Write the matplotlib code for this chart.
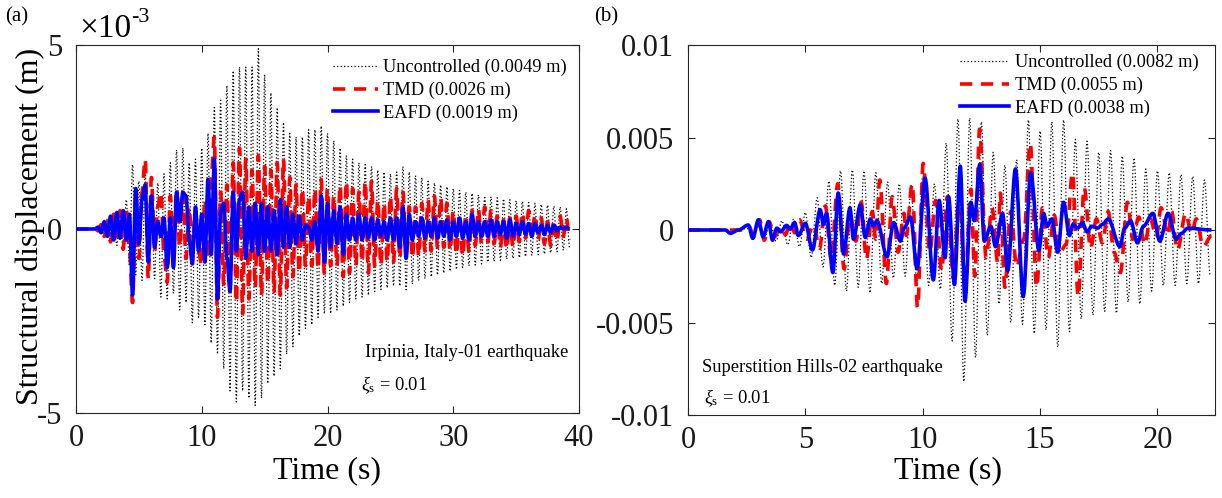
import numpy as np
import matplotlib
matplotlib.use("Agg")
import matplotlib.pyplot as plt
from matplotlib.path import Path
from matplotlib.patches import PathPatch
from matplotlib.lines import Line2D

plt.rcParams['font.family'] = ['Liberation Serif', 'DejaVu Serif']
plt.rcParams['mathtext.fontset'] = 'custom'
plt.rcParams['mathtext.rm'] = 'Liberation Serif'
plt.rcParams['mathtext.it'] = 'Liberation Serif:italic'

# ---------------- data (displacement in 1e-3 m) ----------------
# Panel (a): Irpinia, sampled every 0.25 s from t = 0
step_a = 0.25
unc_a = [
    0, 0, 0, 0,
    0, 0, 0.03, -0.05,
    0.12, -0.18, 0.25, -0.3,
    0.4, -0.45, 0.55, -0.6,
    0.8, -1.0, 1.75, -1.25,
    1.3, -1.4, 1.5, -1.2,
    1.0, -1.35, 1.25, -1.85,
    1.5, -1.9, 1.8, -1.75,
    2.15, -2.2, 2.2, -2.0,
    1.8, -2.55, 1.9, -2.4,
    2.2, -2.6, 2.6, -3.1,
    3.3, -3.4, 3.5, -3.8,
    3.9, -4.4, 4.3, -4.7,
    4.4, -4.4, 4.4, -4.6,
    4.4, -4.8, 4.9, -4.6,
    4.2, -4.2, 3.7, -4.0,
    3.3, -3.8, 2.9, -3.4,
    2.6, -3.2, 2.5, -2.9,
    2.5, -2.7, 2.7, -2.6,
    2.7, -2.4, 2.8, -2.3,
    2.6, -2.3, 2.4, -2.2,
    2.2, -2.1, 2.0, -2.0,
    1.9, -1.9, 1.8, -1.85,
    1.75, -1.8, 1.7, -1.7,
    1.6, -1.65, 1.55, -1.6,
    1.5, -1.55, 1.55, -1.55,
    1.7, -1.65, 1.55, -1.5,
    1.45, -1.4, 1.4, -1.35,
    1.3, -1.3, 1.25, -1.25,
    1.2, -1.2, 1.15, -1.15,
    1.1, -1.1, 1.05, -1.05,
    1.0, -1.0, 0.97, -0.98,
    0.93, -0.95, 0.9, -0.9,
    0.88, -0.88, 0.85, -0.85,
    0.82, -0.82, 0.8, -0.8,
    0.77, -0.78, 0.75, -0.75,
    0.72, -0.72, 0.7, -0.7,
    0.67, -0.68, 0.65, -0.65,
    0.62, -0.62, 0.6, -0.58,
    0.55, -0.5,
]
tmd_a = [
    0, 0, 0, 0,
    0, 0, 0.03, -0.05,
    0.12, -0.2, 0.3, -0.35,
    0.4, -0.35, 0.5, -0.55,
    0.5, -0.6, -2.0, 0.8,
    -0.8, 1.0, 1.9, -1.35,
    1.4, -0.6, 0.6, 1.0,
    -0.7, -1.45, 0.9, -0.6,
    1.1, -0.5, 0.9, -0.8,
    0.6, -0.7, 0.5, -0.6,
    -1.0, 0.8, -0.8, 1.4,
    2.5, -2.4, 1.0, -1.5,
    1.2, -1.6, 1.8, -2.0,
    2.2, -2.3, 1.9, -1.9,
    1.6, -1.6, 2.0, -1.8,
    1.7, -1.5, 1.6, -1.7,
    1.8, -1.8, 1.9, -1.6,
    1.4, -1.3, 1.2, -1.2,
    1.1, -1.0, 0.9, -1.0,
    1.1, -1.1, 1.35, -1.2,
    1.1, -1.0, 0.9, -1.0,
    1.2, -1.3, 1.3, -1.2,
    1.1, -1.0, 1.0, -0.9,
    1.3, -1.2, 1.3, -1.0,
    0.8, -1.0, 0.7, -0.9,
    0.9, -0.9, 1.1, -0.8,
    1.0, -0.7, 0.6, -0.8,
    0.6, -0.75, 0.7, -0.6,
    0.8, -0.6, 0.9, -0.5,
    0.85, -0.5, 0.7, -0.6,
    0.5, -0.7, 0.4, -0.75,
    0.4, -0.6, 0.5, -0.45,
    0.55, -0.4, 0.6, -0.35,
    0.5, -0.4, 0.35, -0.5,
    0.25, -0.55, 0.3, -0.5,
    0.35, -0.35, 0.45, -0.25,
    0.5, -0.2, 0.4, -0.3,
    0.3, -0.4, 0.2, -0.45,
    0.25, -0.35, 0.35, -0.2,
    0.3, -0.3,
]
eafd_a = [
    0, 0, 0, 0,
    0, 0, 0, 0.05,
    -0.1, 0.2, -0.2, 0.35,
    -0.3, 0.45, -0.25, 0.5,
    -0.3, 0.4, -1.8, 1.1,
    -0.4, 0.8, 1.2, -0.9,
    0.9, -0.5, 0.2, -0.2,
    0.3, -1.05, 0.3, -1.05,
    1.0, 0.2, 1.0, 0.9,
    -0.3, -0.95, 0.6, -0.6,
    0.4, -0.9, 1.35, -0.7,
    1.9, -1.9, 0.5, 0.7,
    -0.8, -1.7, 1.0, -0.6,
    0.8, 1.0, -0.8, 0.6,
    -0.6, 0.7, -0.7, 0.7,
    -0.6, 0.6, -0.6, 0.5,
    -0.7, 0.8, -0.5, 0.6,
    -0.5, 0.4, -0.4, 0.35,
    -0.3, 0.1, 0.05, -0.3,
    0.2, -0.6, 0.9, -0.9,
    0.7, -0.5, 0.5, -0.4,
    0.6, -0.7, 0.4, -0.3,
    0.3, -0.3, 0.4, -0.3,
    0.3, -0.25, 0.3, -0.3,
    0.25, -0.2, 0.2, -0.3,
    0.3, -0.3, 0.3, -0.5,
    0.6, -0.8, 0.4, -0.3,
    0.2, -0.2, 0.3, -0.25,
    0.2, -0.2, 0.3, -0.25,
    0.2, -0.2, 0.25, -0.3,
    0.2, -0.2, 0.3, -0.25,
    0.2, -0.3, 0.4, -0.2,
    0.2, -0.2, 0.2, -0.2,
    0.25, -0.2, 0.2, -0.15,
    0.2, -0.25, 0.25, -0.2,
    0.15, -0.15, 0.2, -0.15,
    0.15, -0.2, 0.15, -0.1,
    0.1, -0.15, 0.1, -0.1,
    0.1, -0.05, 0.05, 0.0,
    0.05, 0.0,
]

# Panel (b): Superstition Hills
step_b = 0.25
unc_b = [
    0, 0, 0, 0,
    0, 0, 0, 0,
    0, 0, 0.1, -0.2,
    0.35, -0.5, 0.4, -0.6,
    0.5, -0.8, 0.6, -0.9,
    0.95, -1.5, 1.75, -2.0,
    2.65, -3.0, 3.2, -3.3,
    3.25, -3.1, 3.2, -3.4,
    3.1, -2.9, 2.6, -2.6,
    2.5, -2.5, 2.4, -2.8,
    2.9, -3.0, 2.5, -3.2,
    4.7, -6.0, 6.0, -8.2,
    6.05, -6.9, 5.85, -5.7,
    4.2, -4.0, 3.5, -5.0,
    3.8, -5.1, 5.95, -5.6,
    5.35, -5.4, 5.85, -6.35,
    5.95, -5.5, 4.9, -4.8,
    4.8, -4.6, 4.2, -4.4,
    4.3, -4.5, 4.0, -3.9,
    3.9, -4.0, 3.3, -3.3,
    3.2, -3.0, 3.1, -3.0,
    3.0, -2.9, 2.9, -2.9,
    2.7, -2.5,
]
tmd_b = [
    (0, 0), (2.4, 0), (2.6, 0.2), (2.8, -0.35), (3.05, 0.55), (3.25, -0.55),
    (3.45, 0.45), (3.7, -0.35), (3.95, 0.2), (4.15, -0.25), (4.35, 0.4),
    (4.55, -0.15), (4.75, 0.55), (5.05, -0.5), (5.35, 0.3), (5.6, -1.0),
    (5.85, 1.3), (6.1, -1.6), (6.38, 2.5), (6.65, -2.1), (6.9, 0.8),
    (7.15, -0.6), (7.38, 1.5), (7.6, -1.6), (7.85, 1.0), (8.0, -0.5),
    (8.17, 2.7), (8.45, -2.9), (8.7, 1.8), (8.95, -1.2), (9.2, 0.9),
    (9.3, -0.3), (9.55, 2.5), (9.78, -4.2), (10.02, 3.6), (10.3, -1.2),
    (10.55, 1.6), (10.8, -2.2), (11.05, 1.8), (11.3, -2.6), (11.55, 2.0),
    (11.8, -3.0), (12.05, 2.2), (12.22, -2.5), (12.42, 5.45), (12.7, -1.5),
    (12.95, 1.2), (13.2, -1.8), (13.3, 2.0), (13.5, -3.1), (13.75, 1.0),
    (14.0, -2.0), (14.3, -0.5), (14.58, 4.7), (14.85, -3.1), (15.1, 1.2),
    (15.35, -1.5), (15.6, 0.8), (15.85, -1.2), (16.1, -0.8), (16.38, 3.1),
    (16.62, -3.6), (16.88, 2.3), (17.15, -1.0), (17.4, 0.6), (17.65, -0.7),
    (17.9, 1.0), (18.15, -1.2), (18.42, -2.3), (18.72, 1.5), (18.95, -0.5),
    (19.2, 0.7), (19.45, -0.8), (19.7, 0.6), (19.95, -0.4), (20.15, 1.2),
    (20.45, -0.3), (20.6, 1.0), (20.85, -1.1), (21.2, 0.9), (21.45, -0.2),
    (21.65, 0.6), (21.95, -0.9), (22.3, -0.3),
]
eafd_b = [
    (0, 0), (1.6, 0), (1.8, -0.18), (2.15, 0), (2.57, 0.27), (2.76, -0.45),
    (3.0, 0.55), (3.2, -0.37), (3.43, 0.45), (3.6, -0.55), (3.78, 0.1),
    (3.95, -0.1), (4.2, 0.25), (4.35, 0.05), (4.54, 0.4), (4.7, -0.3),
    (5.0, 0.36), (5.3, -1.08), (5.63, 1.1), (5.77, 0.3), (5.9, 0.9),
    (6.17, -2.3), (6.4, 2.0), (6.63, -1.3), (6.9, 1.2), (7.05, -0.5),
    (7.34, 1.36), (7.55, -0.4), (7.77, 0.6), (7.9, 0.2), (8.05, 0.5),
    (8.48, -1.45), (8.76, 0.4), (9.05, -0.6), (9.2, 0.1), (9.48, 0.7),
    (9.76, -2.1), (10.1, 2.8), (10.45, -2.7), (10.7, 1.6), (10.95, -1.5),
    (11.1, 1.8), (11.35, -2.95), (11.6, 3.45), (11.8, -3.85), (12.05, 1.5),
    (12.2, 0.5), (12.43, 3.55), (12.62, -0.6), (12.9, 0.2), (13.1, -0.9),
    (13.4, 0.9), (13.62, -2.2), (13.95, 3.3), (14.28, -3.6), (14.6, 3.1),
    (14.95, -1.1), (15.15, 0.9), (15.3, 0.2), (15.5, 0.6), (15.75, -1.2),
    (16.0, 1.5), (16.25, -0.3), (16.4, 0.3), (16.6, 0.1), (16.8, 0.4),
    (17.0, -0.1), (17.2, 0.2), (17.45, 0.1), (17.65, 0.3), (17.9, 0.6),
    (18.4, -0.9), (18.6, 0.1), (18.85, 0.5), (19.15, -0.7), (19.4, 0.2),
    (19.8, 0.9), (20.1, -0.6), (20.45, 0.9), (20.8, -0.5), (21.0, -0.2),
    (21.3, 0.1), (22.3, 0.0),
]

labels_a = ['Uncontrolled (0.0049 m)', 'TMD (0.0026 m)', 'EAFD (0.0019 m)']
labels_b = ['Uncontrolled (0.0082 m)', 'TMD (0.0055 m)', 'EAFD (0.0038 m)']
xticks_a = [0, 10, 20, 30, 40]
yticks_a = [-5, 0, 5]
xticks_b = [0, 5, 10, 15, 20]
yticks_b = [-10, -5, 0, 5, 10]
yticklabels_b = ['-0.01', '-0.005', '0', '0.005', '0.01']

# ---------------- figure ----------------
W, H = 1222, 498
fig = plt.figure(figsize=(W / 100, H / 100), dpi=100)


def rect(l, t, r, b):
    return [l / W, 1 - b / H, (r - l) / W, (b - t) / H]


axa = fig.add_axes(rect(76, 45, 579, 413))
axb = fig.add_axes(rect(688, 45, 1215, 415))

AX_COL = '#262626'
dot_style = dict(color='k', lw=0.9, linestyle=(0, (1.0, 1.8)))
dash_style = dict(color='#ff0000', lw=2.6, linestyle=(0, (3.4, 2.4)))
solid_style = dict(color='#0000ff', lw=2.6)


def series_uniform(vals, step):
    v = np.asarray(vals, dtype=float)
    return np.arange(len(v)) * step, v


def series_pairs(pairs):
    arr = np.asarray(pairs, dtype=float)
    return arr[:, 0], arr[:, 1]


def draw_curve(ax, t, v, style, z):
    """Smooth rendering through the read extrema (flat tangents at each point)."""
    verts = [(t[0], v[0])]
    codes = [Path.MOVETO]
    for i in range(len(t) - 1):
        d = (t[i + 1] - t[i]) / 3.0
        verts += [(t[i] + d, v[i]), (t[i + 1] - d, v[i + 1]), (t[i + 1], v[i + 1])]
        codes += [Path.CURVE4] * 3
    st = dict(style)
    patch = PathPatch(Path(verts, codes), fill=False, edgecolor=st['color'],
                      lw=st['lw'], linestyle=st.get('linestyle', '-'),
                      joinstyle='round', capstyle='butt', zorder=z)
    ax.add_patch(patch)


draw_curve(axa, *series_uniform(unc_a, step_a), dot_style, 2)
draw_curve(axa, *series_uniform(tmd_a, step_a), dash_style, 3)
draw_curve(axa, *series_uniform(eafd_a, step_a), solid_style, 4)

draw_curve(axb, *series_uniform(unc_b, step_b), dot_style, 2)
draw_curve(axb, *series_pairs(tmd_b), dash_style, 3)
draw_curve(axb, *series_pairs(eafd_b), solid_style, 4)

axa.set_xlim(0, 40)
axa.set_ylim(-5, 5)
axa.set_xticks(xticks_a)
axa.set_yticks(yticks_a)
axa.set_yticklabels([str(v) for v in yticks_a])

axb.set_xlim(0, 22.45)
axb.set_ylim(-10, 10)
axb.set_xticks(xticks_b)
axb.set_yticks(yticks_b)
axb.set_yticklabels(yticklabels_b)

for ax in (axa, axb):
    for s in ax.spines.values():
        s.set_color(AX_COL)
        s.set_linewidth(0.8)
    ax.tick_params(direction='in', top=True, right=True, length=5, width=0.8,
                   color=AX_COL, labelsize=22, labelcolor='#1a1a1a')
    ax.tick_params(axis='y', pad=10)
    ax.tick_params(axis='x', pad=8)


def handles(labels):
    return [Line2D([], [], label=labels[0], **dot_style),
            Line2D([], [], label=labels[1], **dash_style),
            Line2D([], [], label=labels[2], **solid_style)]


leg_a = axa.legend(handles=handles(labels_a), loc='upper left',
                   bbox_to_anchor=(333 / W, 1 - 59 / H),
                   bbox_transform=fig.transFigure, frameon=False, fontsize=13.2,
                   handlelength=2.45, handletextpad=0.3, labelspacing=0.3,
                   borderpad=0, borderaxespad=0)
leg_b = axb.legend(handles=handles(labels_b), loc='upper left',
                   bbox_to_anchor=(960 / W, 1 - 54 / H),
                   bbox_transform=fig.transFigure, frameon=False, fontsize=13.2,
                   handlelength=2.7, handletextpad=0.3, labelspacing=0.3,
                   borderpad=0, borderaxespad=0)

# annotations
fig.text(365 / W, 1 - 352 / H, 'Irpinia, Italy-01 earthquake', fontsize=13.3,
         ha='left', va='center')
fig.text(361 / W, 1 - 385 / H, r'$\xi_{\rm s}$ = 0.01', fontsize=13.3,
         ha='left', va='center')
fig.text(702 / W, 1 - 368 / H, 'Superstition Hills-02 earthquake', fontsize=13.3,
         ha='left', va='center')
fig.text(704 / W, 1 - 398 / H, r'$\xi_{\rm s}$ = 0.01', fontsize=13.3,
         ha='left', va='center')

# axis labels
fig.text(30 / W, 1 - 226 / H, 'Structural displacement (m)', fontsize=23,
         rotation=90, ha='center', va='center')
fig.text(327 / W, 1 - 471 / H, 'Time (s)', fontsize=23, ha='center', va='center')
fig.text(948 / W, 1 - 471 / H, 'Time (s)', fontsize=23, ha='center', va='center')

# multiplier and panel tags
fig.text(79 / W, 1 - 37 / H, '\u00d710', fontsize=24, ha='left', va='baseline')
fig.text(131 / W, 1 - 17 / H, '-3', fontsize=16, ha='left', va='center')
fig.text(17 / W, 1 - 17 / H, '(a)', fontsize=15, ha='center', va='center')
fig.text(606 / W, 1 - 17 / H, '(b)', fontsize=15, ha='center', va='center')

fig.savefig('out.png', dpi=100)
